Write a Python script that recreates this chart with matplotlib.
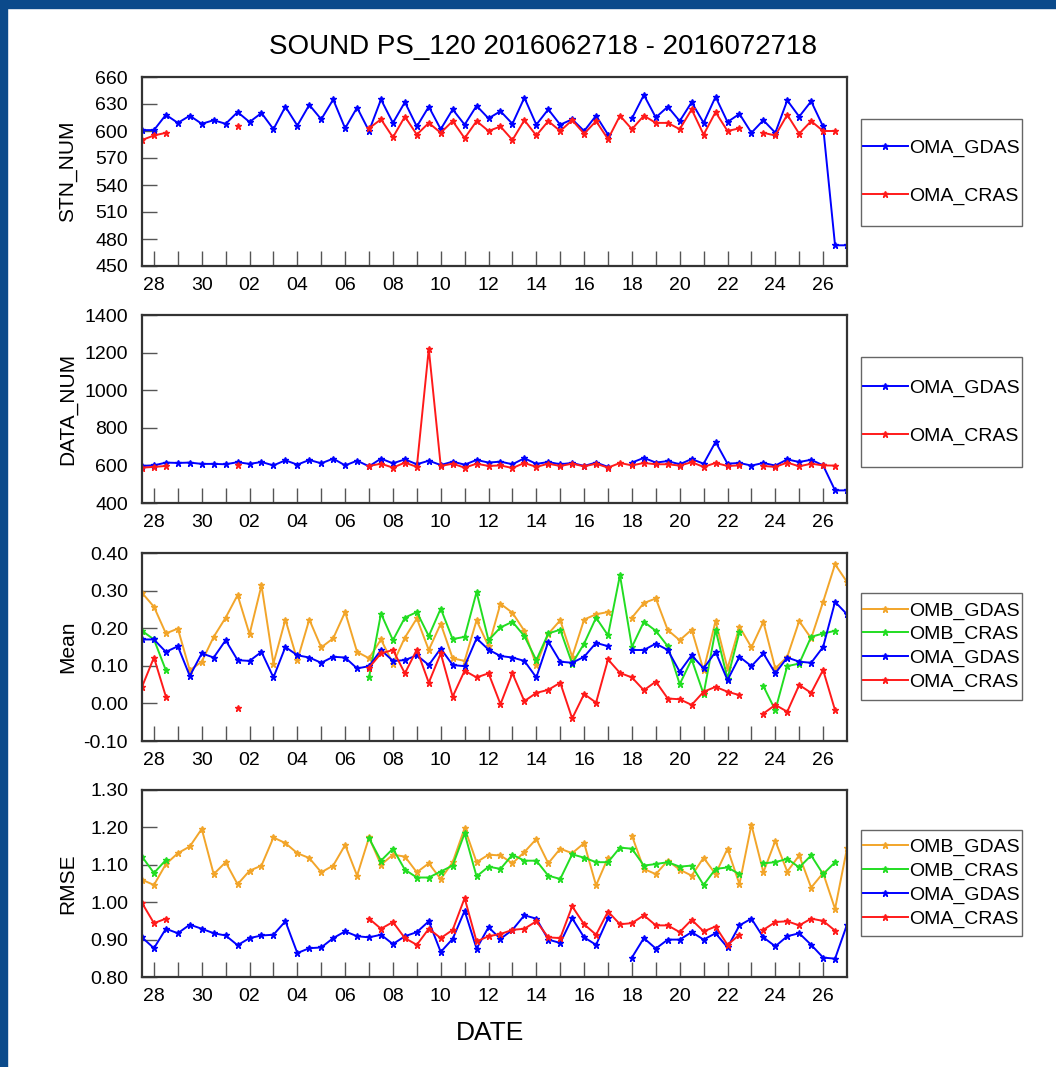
import numpy as np
import pandas as pd
import matplotlib
matplotlib.use('Agg')
import matplotlib.pyplot as plt
import matplotlib.dates as mdates
from matplotlib.patches import Rectangle

nan = np.nan

# 12-hourly analysis times shown on the x axis
times = pd.date_range('2016-06-27 12:00', periods=60, freq='12h')
label_days = pd.date_range('2016-06-28', '2016-07-26', freq='2D')
tick_days = pd.date_range('2016-06-28', '2016-07-26', freq='1D')

stn_gdas = [601, 601, 618, 609, 617, 608, 612, 608, 621, 610,
            620, 602, 627, 606, 629, 613, 635, 603, 626, 600,
            635, 609, 632, 605, 627, 602, 624, 607, 628, 614,
            622, 608, 637, 607, 624, 607, 613, 600, 617, 596,
            nan, 614, 640, 615, 627, 611, 632, 609, 638, 610,
            619, 598, 612, 598, 634, 616, 633, 605, 473, 473]
stn_cras = [590, 595, 598, nan, nan, nan, nan, nan, 606, nan,
            nan, nan, nan, nan, nan, nan, nan, nan, nan, 603,
            613, 593, 616, 596, 609, 598, 611, 592, 611, 600,
            605, 590, 612, 595, 611, 600, 612, 597, 611, 591,
            617, 602, 617, 609, 609, 602, 624, 596, 621, 600,
            603, nan, 598, 595, 618, 597, 611, 600, 600, nan]

data_gdas = [597, 600, 615, 613, 615, 608, 608, 606, 617, 608,
             618, 600, 627, 604, 629, 611, 636, 600, 625, 595,
             636, 611, 632, 606, 625, 602, 620, 604, 629, 615,
             620, 606, 638, 608, 618, 606, 613, 597, 615, 592,
             nan, 615, 640, 615, 623, 606, 634, 609, 725, 609,
             613, 599, 613, 599, 632, 618, 630, 600, 467, 467]
data_cras = [588, 592, 597, nan, nan, nan, nan, nan, 600, nan,
             nan, nan, nan, nan, nan, nan, nan, nan, nan, 597,
             609, 588, 615, 592, 1220, 597, 609, 588, 609, 597,
             600, 586, 613, 592, 609, 597, 609, 595, 609, 588,
             613, 600, 613, 606, 606, 599, 617, 592, 613, 597,
             600, nan, 597, 592, 615, 595, 609, 600, 599, nan]

mean_omb_gdas = [0.294, 0.257, 0.186, 0.199, 0.088, 0.111, 0.177, 0.228, 0.288, 0.184,
                 0.314, 0.106, 0.223, 0.115, 0.223, 0.149, 0.173, 0.243, 0.137, 0.120,
                 0.170, 0.106, 0.175, 0.226, 0.142, 0.212, 0.120, 0.113, 0.221, 0.152,
                 0.265, 0.241, 0.193, 0.102, 0.185, 0.221, 0.124, 0.223, 0.237, 0.243,
                 nan, 0.228, 0.267, 0.279, 0.195, 0.168, 0.196, 0.088, 0.219, 0.093,
                 0.204, 0.149, 0.217, 0.093, 0.124, 0.219, 0.173, 0.270, 0.370, 0.323]
mean_omb_cras = [0.193, 0.170, 0.088, nan, nan, nan, nan, nan, nan, nan,
                 nan, nan, nan, nan, nan, nan, nan, nan, nan, 0.069,
                 0.239, 0.168, 0.228, 0.243, 0.179, 0.252, 0.171, 0.177, 0.296, 0.168,
                 0.202, 0.217, 0.179, 0.115, 0.186, 0.196, 0.106, 0.159, 0.228, 0.181,
                 0.341, 0.150, 0.217, 0.193, 0.152, 0.051, 0.117, 0.025, 0.196, 0.066,
                 0.190, nan, 0.046, -0.018, 0.099, 0.106, 0.177, 0.186, 0.193, nan]
mean_oma_gdas = [0.170, 0.170, 0.137, 0.152, 0.073, 0.133, 0.122, 0.168, 0.115, 0.113,
                 0.137, 0.069, 0.150, 0.128, 0.122, 0.108, 0.124, 0.122, 0.093, 0.099,
                 0.142, 0.113, 0.115, 0.128, 0.102, 0.146, 0.102, 0.099, 0.173, 0.143,
                 0.126, 0.122, 0.113, 0.069, 0.164, 0.111, 0.108, 0.124, 0.161, 0.152,
                 nan, 0.142, 0.142, 0.159, 0.142, 0.084, 0.128, 0.093, 0.137, 0.062,
                 0.124, 0.099, 0.133, 0.080, 0.122, 0.111, 0.108, 0.150, 0.270, 0.237]
mean_oma_cras = [0.044, 0.122, 0.018, nan, nan, nan, nan, nan, -0.012, nan,
                 nan, nan, nan, nan, nan, nan, nan, nan, nan, 0.095,
                 0.133, 0.142, 0.080, 0.143, 0.055, 0.133, 0.018, 0.087, 0.069, 0.080,
                 -0.002, 0.080, 0.006, 0.028, 0.036, 0.055, -0.040, 0.025, 0.002, 0.117,
                 0.081, 0.069, 0.035, 0.058, 0.013, 0.011, -0.004, 0.031, 0.044, 0.031,
                 0.022, nan, -0.027, -0.004, -0.022, 0.049, 0.028, 0.089, -0.018, nan]

rmse_omb_gdas = [1.060, 1.046, 1.102, 1.131, 1.149, 1.196, 1.075, 1.107, 1.048, 1.084,
                 1.098, 1.173, 1.158, 1.131, 1.118, 1.080, 1.098, 1.153, 1.071, 1.173,
                 1.100, 1.127, 1.122, 1.080, 1.104, 1.062, 1.107, 1.198, 1.107, 1.127,
                 1.125, 1.104, 1.134, 1.169, 1.104, 1.143, 1.131, 1.158, 1.045, 1.119,
                 nan, 1.178, 1.089, 1.075, 1.111, 1.087, 1.071, 1.119, 1.075, 1.143,
                 1.048, 1.207, 1.080, 1.164, 1.082, 1.125, 1.039, 1.078, 0.982, 1.144]
rmse_omb_cras = [1.122, 1.078, 1.113, nan, nan, nan, nan, nan, nan, nan,
                 nan, nan, nan, nan, nan, nan, nan, nan, nan, 1.171,
                 1.111, 1.143, 1.087, 1.066, 1.066, 1.082, 1.098, 1.184, 1.069, 1.095,
                 1.089, 1.127, 1.111, 1.111, 1.071, 1.062, 1.128, 1.119, 1.107, 1.107,
                 1.146, 1.143, 1.098, 1.102, 1.107, 1.095, 1.098, 1.046, 1.089, 1.093,
                 1.075, nan, 1.104, 1.107, 1.116, 1.093, 1.125, 1.075, 1.107, nan]
rmse_oma_gdas = [0.906, 0.877, 0.929, 0.917, 0.940, 0.929, 0.917, 0.911, 0.885, 0.904,
                 0.911, 0.913, 0.949, 0.864, 0.877, 0.879, 0.904, 0.922, 0.909, 0.906,
                 0.913, 0.888, 0.909, 0.920, 0.949, 0.867, 0.902, 0.977, 0.876, 0.933,
                 0.902, 0.926, 0.965, 0.956, 0.900, 0.891, 0.957, 0.906, 0.886, 0.957,
                 nan, 0.852, 0.904, 0.876, 0.900, 0.900, 0.920, 0.900, 0.917, 0.879,
                 0.938, 0.956, 0.906, 0.882, 0.909, 0.917, 0.886, 0.852, 0.849, 0.940]
rmse_oma_cras = [0.998, 0.944, 0.956, nan, nan, nan, nan, nan, nan, nan,
                 nan, nan, nan, nan, nan, nan, nan, nan, nan, 0.956,
                 0.929, 0.947, 0.904, 0.886, 0.929, 0.904, 0.926, 1.011, 0.895, 0.909,
                 0.915, 0.926, 0.929, 0.949, 0.906, 0.904, 0.989, 0.941, 0.913, 0.975,
                 0.941, 0.944, 0.965, 0.938, 0.938, 0.920, 0.953, 0.922, 0.935, 0.886,
                 0.913, nan, 0.926, 0.947, 0.949, 0.938, 0.956, 0.950, 0.924, nan]

COLORS = {'OMB_GDAS': '#f2a52a', 'OMB_CRAS': '#22dd22',
          'OMA_GDAS': '#0000ff', 'OMA_CRAS': '#ff1a1a'}

plt.rcParams['font.family'] = ['Liberation Sans', 'DejaVu Sans']

W, H = 1056, 1067
fig = plt.figure(figsize=(W / 100, H / 100), dpi=100)
fig.patch.set_facecolor('white')

# slide border from the screenshot
fig.add_artist(Rectangle((0, 1 - 8 / H), 1, 8 / H, transform=fig.transFigure,
                         color='#0b4a8b', zorder=0))
fig.add_artist(Rectangle((0, 0), 7 / W, 1, transform=fig.transFigure,
                         color='#0b4a8b', zorder=0))


def px_box(top, bottom, left=142, right=847):
    return [left / W, 1 - bottom / H, (right - left) / W, (bottom - top) / H]


def setup_axis(ax, ylabel, yticks, fmt):
    ax.set_xlim(times[0], times[-1])
    ax.set_ylim(yticks[0], yticks[-1])
    ax.set_yticks(yticks)
    ax.yaxis.set_major_formatter(plt.FormatStrFormatter(fmt))
    ax.set_xticks(label_days)
    ax.set_xticks(tick_days, minor=True)
    ax.xaxis.set_major_formatter(mdates.DateFormatter('%d'))
    ax.tick_params(axis='both', which='both', direction='in', length=11,
                   width=1, color='#555555', labelsize=14, top=False, right=False)
    ax.tick_params(axis='y', pad=10)
    ax.tick_params(axis='x', pad=8)
    for s in ax.spines.values():
        s.set_linewidth(1.6)
        s.set_color('#333333')
    ax.set_ylabel(ylabel, fontsize=15)
    ax.yaxis.set_label_coords(-0.092, 0.5)


def add_legend(ax, handles, top, bottom, spacing):
    fig.add_artist(Rectangle((861 / W, 1 - bottom / H), 161 / W, (bottom - top) / H,
                             transform=fig.transFigure, fill=False,
                             edgecolor='#666666', lw=1.0))
    fig.legend(handles=handles, loc='center', frameon=False,
               bbox_to_anchor=(941.5 / W, 1 - (top + bottom) / 2 / H),
               fontsize=14, handlelength=2.3, handletextpad=0.1,
               labelspacing=spacing, borderpad=0)


def draw(ax, series):
    handles = []
    for name, vals in series:
        h, = ax.plot(times, vals, color=COLORS[name], lw=1.4, marker='*',
                     ms=4.5, label=name)
        handles.append(h)
    return handles


ax1 = fig.add_axes(px_box(77, 266))
h1 = draw(ax1, [('OMA_GDAS', stn_gdas), ('OMA_CRAS', stn_cras)])
setup_axis(ax1, 'STN_NUM', np.arange(450, 661, 30), '%d')
add_legend(ax1, h1, 119, 226, 1.55)

ax2 = fig.add_axes(px_box(315, 503))
h2 = draw(ax2, [('OMA_GDAS', data_gdas), ('OMA_CRAS', data_cras)])
setup_axis(ax2, 'DATA_NUM', np.arange(400, 1401, 200), '%d')
add_legend(ax2, h2, 357, 467, 1.55)

ax3 = fig.add_axes(px_box(553, 741))
h3 = draw(ax3, [('OMB_GDAS', mean_omb_gdas), ('OMB_CRAS', mean_omb_cras),
                ('OMA_GDAS', mean_oma_gdas), ('OMA_CRAS', mean_oma_cras)])
setup_axis(ax3, 'Mean', np.round(np.arange(-0.1, 0.41, 0.1), 2), '%.2f')
add_legend(ax3, h3, 593, 700, 0.31)

ax4 = fig.add_axes(px_box(790, 977))
h4 = draw(ax4, [('OMB_GDAS', rmse_omb_gdas), ('OMB_CRAS', rmse_omb_cras),
                ('OMA_GDAS', rmse_oma_gdas), ('OMA_CRAS', rmse_oma_cras)])
setup_axis(ax4, 'RMSE', np.round(np.arange(0.8, 1.31, 0.1), 2), '%.2f')
add_legend(ax4, h4, 830, 936, 0.31)

fig.text(543 / W, 1 - 47 / H, 'SOUND PS_120 2016062718 - 2016072718',
         ha='center', va='center', fontsize=20)
fig.text(490 / W, 1 - 1033 / H, 'DATE', ha='center', va='center', fontsize=19)

fig.savefig('out.png', dpi=100)
